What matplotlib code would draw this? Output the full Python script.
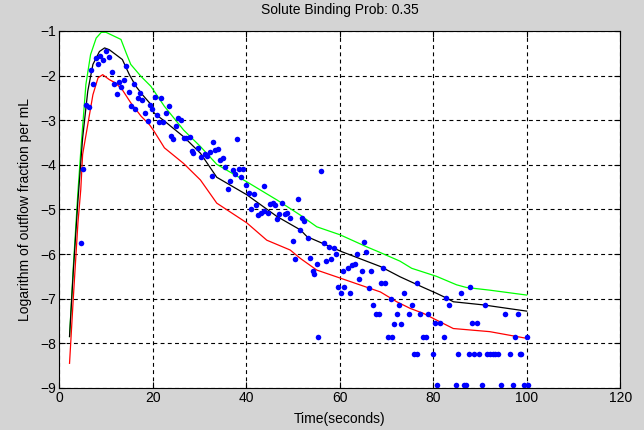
import numpy as np
import matplotlib
matplotlib.use("Agg")
import matplotlib.pyplot as plt

# observed outflow (log fraction per mL)
obs_t = [4.7, 5.1, 5.7, 6.3, 6.7, 7.3, 7.8, 8.3, 8.8, 9.3, 9.9, 10.6, 11.3, 11.8, 12.3, 12.8,
         13.3, 13.9, 14.3, 14.9, 15.4, 16.0, 16.3, 16.8, 17.3, 17.8, 18.4, 18.9, 19.4, 19.8,
         20.4, 21.0, 21.4, 21.8, 22.3, 22.8, 23.4, 24.0, 24.3, 25.0, 25.5, 26.0, 26.6, 27.1,
         27.9, 28.4, 28.7, 29.6, 30.3, 31.1, 31.6, 32.2, 32.7, 32.9, 33.4, 34.0, 34.4, 35.0,
         35.5, 36.1, 36.6, 37.1, 37.7, 38.1, 38.4, 38.9, 39.3, 40.0, 40.5, 41.1, 41.6, 42.1,
         42.6, 43.1, 43.7, 43.9, 44.6, 45.0, 45.7, 46.1, 46.6, 47.1, 47.6, 48.2, 48.7, 49.4,
         50.0, 50.5, 51.0, 51.6, 51.9, 52.4, 53.3, 53.7, 54.2, 54.6, 55.1, 55.3, 56.0, 56.7,
         57.1, 57.7, 58.2, 58.7, 59.3, 59.7, 60.3, 60.6, 61.0, 61.7, 62.1, 62.6, 63.3, 63.7,
         64.2, 64.8, 65.3, 65.6, 66.2, 66.7, 67.2, 67.7, 68.4, 68.8, 69.2, 69.7, 70.4, 70.9,
         71.2, 71.7, 72.2, 72.7, 73.2, 73.8, 74.9, 75.4, 75.9, 76.6, 76.6, 77.2, 77.8, 78.4,
         78.9, 79.9, 80.3, 80.9, 81.5, 82.4, 82.7, 83.3, 84.9, 85.4, 85.9, 86.5, 87.1, 87.6,
         87.8, 88.3, 88.8, 89.3, 89.7, 90.4, 91.0, 91.5, 92.2, 92.8, 93.3, 93.8, 94.5, 95.4,
         96.5, 97.0, 97.5, 98.1, 98.5, 98.8, 99.4, 100.0, 100.2]
obs_y = [-5.76, -4.09, -2.67, -2.71, -1.87, -2.2, -1.61, -1.73, -1.57, -1.64, -1.46, -1.59, -1.93, -2.19, -2.41, -2.15,
         -2.25, -2.11, -1.78, -2.37, -2.69, -2.2, -2.76, -2.5, -2.39, -2.54, -2.84, -3.01, -2.67, -2.74,
         -2.48, -2.89, -3.04, -2.5, -3.03, -2.83, -2.68, -3.35, -3.42, -3.13, -2.94, -3.0, -3.41, -3.39,
         -3.37, -3.69, -3.74, -3.62, -3.83, -3.76, -3.8, -3.71, -4.25, -3.5, -3.67, -3.65, -3.89, -3.85,
         -4.04, -4.55, -4.36, -4.12, -4.21, -3.43, -4.1, -4.27, -4.1, -4.45, -4.64, -5.0, -4.65, -4.91,
         -5.13, -5.09, -5.03, -4.47, -5.09, -4.88, -4.85, -4.9, -5.22, -5.11, -4.85, -5.1, -5.07, -5.19,
         -5.71, -6.11, -4.77, -5.47, -5.2, -5.27, -5.65, -6.1, -6.37, -6.45, -6.23, -7.85, -4.13, -5.76,
         -6.16, -5.84, -6.11, -5.87, -5.99, -6.75, -6.87, -6.38, -6.75, -6.31, -6.87, -6.24, -6.22, -5.99,
         -6.55, -6.38, -5.72, -5.95, -6.76, -6.38, -7.15, -7.34, -7.34, -6.65, -6.31, -6.65, -7.85, -7.0,
         -7.85, -7.56, -7.34, -7.15, -7.56, -6.87, -7.34, -7.15, -8.24, -8.24, -6.65, -7.34, -7.85, -7.85,
         -7.34, -8.25, -7.55, -8.93, -7.55, -7.85, -6.99, -7.14, -8.93, -8.25, -6.87, -8.93, -8.93, -8.25,
         -6.75, -7.55, -8.25, -7.55, -8.25, -8.93, -7.14, -8.25, -8.25, -8.25, -8.25, -8.25, -8.93, -7.34,
         -8.25, -8.93, -7.85, -7.34, -8.25, -8.25, -8.93, -7.85, -8.93]

# model curves
green_t = [2.2, 3.0, 4.0, 4.7, 5.7, 6.7, 7.9, 9.0, 10.0, 11.8, 13.2, 14.3, 15.3, 17.5, 19.6,
           22.5, 26.6, 30.2, 33.7, 40.1, 46.6, 51.6, 55.1, 60.1, 65.8, 68.3, 72.9, 75.4, 80.7,
           85.0, 87.1, 92.1, 100.0]
green_y = [-7.85, -6.3, -4.6, -3.55, -2.2, -1.53, -1.16, -1.03, -1.03, -1.12, -1.19, -1.49, -1.75,
           -2.02, -2.24, -2.69, -3.22, -3.59, -3.99, -4.38, -4.79, -5.13, -5.39, -5.57, -5.84, -5.95,
           -6.16, -6.32, -6.5, -6.69, -6.75, -6.81, -6.92]

black_t = [2.2, 3.0, 4.0, 5.0, 6.1, 7.2, 8.6, 9.7, 10.7, 12.1, 13.5, 15.0, 16.4, 17.8, 19.3, 20.3,
           22.5, 26.6, 30.2, 33.7, 40.1, 46.6, 51.6, 53.0, 60.5, 68.7, 72.9, 77.9, 80.7, 82.9,
           84.3, 90.7, 100.0]
black_y = [-7.85, -6.4, -4.8, -3.4, -2.35, -1.75, -1.46, -1.38, -1.42, -1.53, -1.64, -1.98, -2.24,
           -2.43, -2.61, -2.84, -3.02, -3.37, -3.74, -4.28, -4.67, -5.16, -5.46, -5.61, -5.95, -6.28,
           -6.51, -6.75, -6.88, -6.99, -7.07, -7.14, -7.28]

red_t = [2.2, 3.0, 4.0, 4.6, 5.0, 6.1, 7.2, 8.3, 9.3, 10.7, 12.1, 13.5, 15.3, 17.5, 19.3, 20.3,
         22.5, 26.6, 30.2, 33.7, 40.1, 44.4, 49.4, 51.6, 55.1, 60.4, 68.7, 72.2, 75.1, 77.9, 80.7,
         84.3, 92.1, 100.0]
red_y = [-8.45, -7.0, -5.3, -4.56, -3.77, -3.1, -2.43, -2.05, -1.98, -2.09, -2.17, -2.32, -2.61,
         -2.91, -3.1, -3.25, -3.62, -3.97, -4.34, -4.86, -5.3, -5.69, -5.91, -6.1, -6.36, -6.55,
         -6.85, -7.07, -7.22, -7.33, -7.48, -7.67, -7.74, -7.89]

plt.rcParams['font.family'] = ['Liberation Sans', 'DejaVu Sans']
plt.rcParams['font.size'] = 10

bg = '#d4d4d4'
fig = plt.figure(figsize=(6.44, 4.30), dpi=100, facecolor=bg)
ax = fig.add_axes([0.092, 0.098, 0.871, 0.83])
ax.set_facecolor('white')

ax.plot(green_t, green_y, color='#00ff00', lw=0.9)
ax.plot(black_t, black_y, color='black', lw=0.9)
ax.plot(red_t, red_y, color='#ff0000', lw=0.9)
ax.plot(obs_t, obs_y, 'o', color='blue', ms=4, mew=0, clip_on=False)

ax.set_xlim(0, 120)
ax.set_ylim(-9, -1)
ax.set_xticks(np.arange(0, 121, 20))
ax.set_yticks(np.arange(-9, 0, 1))
ax.grid(True, color='black', linestyle=(0, (3.5, 3)), linewidth=0.8)
ax.tick_params(direction='in', top=True, right=True, length=4, pad=2)
for s in ax.spines.values():
    s.set_linewidth(0.8)

ax.set_title("Solute Binding Prob: 0.35", fontsize=10, pad=12)
ax.set_xlabel("Time(seconds)", labelpad=5)
ax.set_ylabel("Logarithm of outflow fraction per mL", labelpad=6)

fig.savefig("out.png", dpi=100, facecolor=bg)
